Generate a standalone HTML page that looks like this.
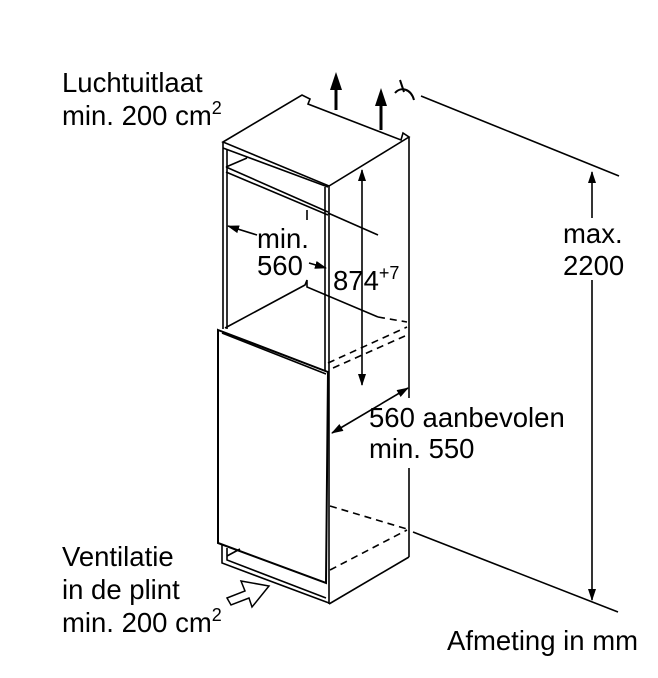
<!DOCTYPE html>
<html><head><meta charset="utf-8"><style>
html,body{margin:0;padding:0;background:#fff}
svg{display:block}
text{font-family:"Liberation Sans",sans-serif;font-size:27.5px;fill:#000}
</style></head><body>
<svg width="658" height="678" viewBox="0 0 658 678" xmlns="http://www.w3.org/2000/svg">
<defs>
<marker id="a" markerWidth="12" markerHeight="12" refX="11" refY="6" orient="auto-start-reverse" markerUnits="userSpaceOnUse"><path d="M0,2 L12,6 L0,10 z" fill="#000"/></marker>
</defs>
<g fill="none" stroke="#000" stroke-width="1.6">
<path d="M223,142 L302,95 L310,99 L308,104 L401,140 L403,133 L409,137 L329,186 Z" fill="#fff"/>
<path d="M223,142 L223,329"/>
<path d="M227,150 L227,329"/>
<path d="M329,186 L329,604"/>
<path d="M409,137 L409,398"/>
<path d="M409,468 L409,557"/>
<path d="M409,557 L329,604"/>
<path d="M223,148 L328,187"/>
<path d="M226,167 L328,212"/>
<path d="M226,172 L328,215"/>
<path d="M226,167 L247,158"/>
<path d="M325,187 L325,372"/>
<path d="M307,210 L307,220"/>
<path d="M328,213 L378,235"/>
<path d="M225,328 L305,285 L307,280 L307,287 L378,317"/>
<path stroke-dasharray="7,5" d="M378,317 L407,322"/>
<path stroke-dasharray="7,5" d="M328,363 L407,327"/>
<path stroke-dasharray="7,5" d="M333,368 L405,336"/>
<path d="M218,330 L328,372 L326,583 L218,543 Z" fill="#fff" stroke-width="2"/>
<path d="M222,333 L326,374"/>
<path d="M222,545 L222,563 L329,603"/>
<path d="M227,548 L227,560 L326,598"/>
<path d="M227,556 L240,549"/>
<path stroke-dasharray="7,5" d="M330,506 L407,529"/>
<path stroke-dasharray="7,5" d="M330,570 L407,530"/>
<path d="M421,96 L619,176"/>
<path d="M413,532 L618,612"/>
<path d="M592,172 L592,218" marker-start="url(#a)"/>
<path d="M592,280 L592,600" marker-end="url(#a)"/>
<path d="M362,170 L362,385" marker-start="url(#a)" marker-end="url(#a)"/>
<path d="M257,235 L228,226" marker-end="url(#a)"/>
<path d="M309,263 L326,268" marker-end="url(#a)"/>
<path d="M332,433 L408,388" marker-start="url(#a)" marker-end="url(#a)"/>
<path d="M395,93 C401,86 411,89 414,100" stroke-width="2"/>
<path d="M400,80 L404,92" stroke-width="2"/>
<path d="M227,598 L245,591 L241,581 L269,586 L252,607 L249,598 L231,605 Z" fill="#fff" stroke-width="1.5"/>
</g>
<g stroke="#000" stroke-width="3">
<path d="M336,110 L336,86"/>
<path d="M381,130 L381,104"/>
</g>
<path d="M336,72 L330,90 L342,90 Z" fill="#000"/>
<path d="M381,88 L375,106 L387,106 Z" fill="#000"/>
<text x="62" y="92">Luchtuitlaat</text>
<text x="62" y="125">min. 200 cm<tspan dy="-11" font-size="18">2</tspan></text>
<text x="257" y="248">min.</text>
<text x="257" y="275">560</text>
<text x="333" y="290">874<tspan dy="-11" font-size="18">+7</tspan></text>
<text x="563" y="243">max.</text>
<text x="563" y="275">2200</text>
<text x="369" y="427">560 aanbevolen</text>
<text x="369" y="458">min. 550</text>
<text x="62" y="566">Ventilatie</text>
<text x="62" y="599">in de plint</text>
<text x="62" y="632">min. 200 cm<tspan dy="-11" font-size="18">2</tspan></text>
<text x="447" y="650">Afmeting in mm</text>
</svg>
</body></html>
